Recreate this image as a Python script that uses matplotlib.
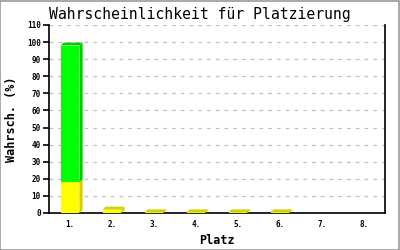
import matplotlib
matplotlib.use("Agg")
import matplotlib.pyplot as plt
from matplotlib.patches import Polygon, Rectangle

categories = ["1.", "2.", "3.", "4.", "5.", "6.", "7.", "8."]
yellow_vals = [18, 2.0, 0.4, 0.4, 0.4, 0.4, 0, 0]
green_vals = [80, 0, 0, 0, 0, 0, 0, 0]

title = "Wahrscheinlichkeit für Platzierung"
xlabel = "Platz"
ylabel = "Wahrsch. (%)"

fig = plt.figure(figsize=(4, 2.5), dpi=100)
fig.patch.set_facecolor("white")
fig.patches.append(Rectangle((0.001, 0.002), 0.997, 0.996, transform=fig.transFigure,
                             fill=False, edgecolor="#999999", linewidth=1.2))
ax = fig.add_axes([0.1225, 0.148, 0.84, 0.752])
ax.set_xlim(-0.5, len(categories) - 0.5)
ax.set_ylim(0, 110)

width = 0.45
dx = 0.075
dy = 1.7

def bar3d(x, y0, h, front, side, top):
    if h <= 0:
        return
    l = x - width / 2
    r = x + width / 2
    ax.add_patch(Rectangle((l, y0), width, h, facecolor=front, edgecolor="none",
                           linewidth=0, antialiased=False, zorder=3))
    ax.add_patch(Polygon([(r, y0), (r + dx, y0 + dy), (r + dx, y0 + h + dy), (r, y0 + h)],
                         closed=True, facecolor=side, edgecolor="none", linewidth=0, zorder=3))
    ax.add_patch(Polygon([(l, y0 + h), (l + dx, y0 + h + dy), (r + dx, y0 + h + dy), (r, y0 + h)],
                         closed=True, facecolor=top, edgecolor="none", linewidth=0, zorder=3))

for i, (yv, gv) in enumerate(zip(yellow_vals, green_vals)):
    bar3d(i, 0, yv, "#ffff00", "#d4d000", "#d4d000")
    bar3d(i, yv, gv, "#00ff00", "#00cc00", "#00cc00")

ax.set_yticks(range(0, 111, 10))
ax.set_xticks(range(len(categories)))
ax.set_xticklabels(categories)
ax.yaxis.grid(True, linestyle=(0, (3, 4)), color="#c0c0c0", linewidth=0.9, zorder=0)
ax.set_axisbelow(True)
for s in ["left", "bottom", "right"]:
    ax.spines[s].set_color("black")
    ax.spines[s].set_linewidth(1.2)
ax.spines["top"].set_visible(False)
ax.tick_params(axis="y", length=4, width=1.2, direction="out", labelsize=5.5, pad=2)
ax.tick_params(axis="x", length=0, labelsize=5.5, pad=5)
for lab in ax.get_xticklabels() + ax.get_yticklabels():
    lab.set_family("DejaVu Sans Mono")
    lab.set_fontweight("bold")

fig.text(0.5, 0.944, title, ha="center", va="center", family="DejaVu Sans Mono",
         fontsize=10.6, color="black")
ax.set_xlabel(xlabel, family="DejaVu Sans Mono", fontweight="bold", fontsize=8.5, labelpad=4)
ax.set_ylabel(ylabel, family="DejaVu Sans Mono", fontweight="bold", fontsize=8.5, labelpad=6)

fig.savefig("out.png", dpi=100, facecolor="white")
